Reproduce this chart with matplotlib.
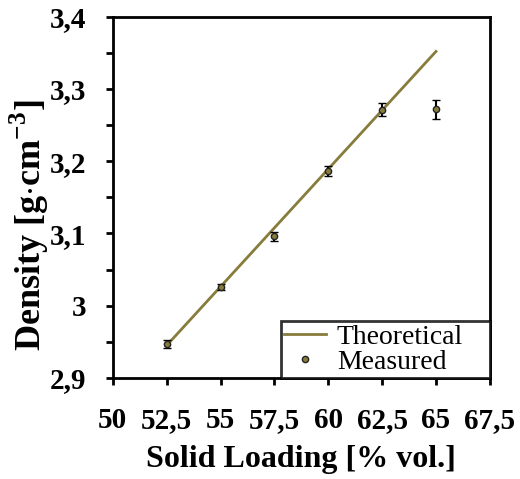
import matplotlib
matplotlib.use('Agg')
import matplotlib.pyplot as plt
from matplotlib.ticker import MultipleLocator
from matplotlib.lines import Line2D

# data
loading = [52.5, 55, 57.5, 60, 62.5, 65]
measured = [2.947, 3.026, 3.096, 3.186, 3.271, 3.272]
err = [0.005, 0.004, 0.006, 0.007, 0.009, 0.013]
theo_x = [52.5, 65]
theo_y = [2.945, 3.352]

xticks = [50, 52.5, 55, 57.5, 60, 62.5, 65, 67.5]
xticklabels = ['50', '52,5', '55', '57,5', '60', '62,5', '65', '67,5']
yticks = [2.9, 3.0, 3.1, 3.2, 3.3, 3.4]
yticklabels = ['2,9', '3', '3,1', '3,2', '3,3', '3,4']

plt.rcParams['font.family'] = ['Liberation Serif', 'DejaVu Serif']
plt.rcParams['mathtext.fontset'] = 'custom'
plt.rcParams['mathtext.rm'] = 'Liberation Serif'
plt.rcParams['mathtext.bf'] = 'Liberation Serif:bold'

olive = '#877c3c'

fig = plt.figure(figsize=(5.2, 4.79), dpi=100)
ax = fig.add_axes([0.217, 0.211, 0.725, 0.754])

ax.plot(theo_x, theo_y, color=olive, lw=2, label='Theoretical')
ax.errorbar(loading, measured, yerr=err, fmt='o', ms=4.5, mfc=olive, mec='#222222',
            mew=1, ecolor='black', elinewidth=1.5, capsize=3, capthick=1.5,
            label='Measured')

ax.set_xlim(50, 67.5)
ax.set_ylim(2.9, 3.4)
ax.set_xticks(xticks)
ax.set_xticklabels(xticklabels, fontweight='bold', fontsize=21)
ax.set_yticks(yticks)
ax.set_yticklabels(yticklabels, fontweight='bold', fontsize=21)
ax.yaxis.set_minor_locator(MultipleLocator(0.05))
ax.tick_params(which='both', direction='out', width=2, length=5, pad=14)
ax.tick_params(axis='x', pad=16)
for s in ax.spines.values():
    s.set_linewidth(2)

ax.set_xlabel('Solid Loading [% vol.]', fontweight='bold', fontsize=23, labelpad=8)
ax.set_ylabel(r'Density [g$\cdot$cm$^{\mathbf{-3}}$]', fontweight='bold', fontsize=26)
ax.yaxis.set_label_coords(-0.165, 0.424)

labels = ['Theoretical', 'Measured']
h2 = [Line2D([], [], color=olive, lw=2),
      Line2D([], [], ls='none', marker='o', ms=4.5, mfc=olive, mec='#222222')]
leg = ax.legend(h2, labels, loc='lower left', bbox_to_anchor=(0.447, 0, 0.553, 0.16),
                mode='expand', fontsize=20, frameon=True,
                fancybox=False, borderaxespad=0, handlelength=1.5,
                borderpad=0.1, labelspacing=0.0, handletextpad=0.4)
leg.get_frame().set_edgecolor('black')
leg.get_frame().set_linewidth(2)

fig.savefig('out.png', dpi=100)
